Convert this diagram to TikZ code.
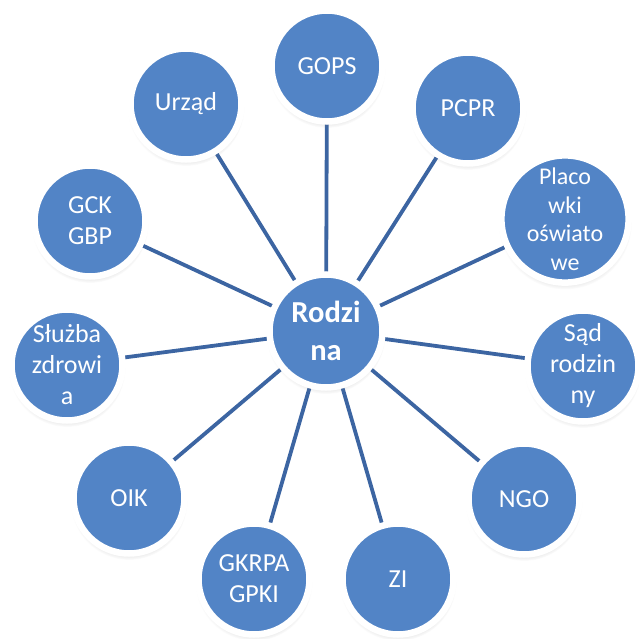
\documentclass[tikz,border=0pt]{standalone}
\usepackage{fontspec}
\setmainfont{Carlito}
\usetikzlibrary{shadows,backgrounds}
\definecolor{circblue}{RGB}{82,132,198}
\definecolor{linkblue}{RGB}{60,101,162}
\tikzset{
  outer/.style={circle, fill=circblue, draw=white, line width=6.5pt, minimum size=111pt, inner sep=0pt,
    align=center, text=white, font=\fontsize{26}{31}\selectfont,
    circular drop shadow={shadow xshift=0pt, shadow yshift=-3.5pt, shadow scale=1.05, opacity=0.3}},
  hub/.style={outer, minimum size=113pt, font=\bfseries\fontsize{30.5}{38}\selectfont},
  link/.style={draw=linkblue, line width=3.8pt}
}
\begin{document}
\begin{tikzpicture}[x=1pt, y=-1pt]
\useasboundingbox (0,0) rectangle (638,639);
\node[hub] (c) at (326,331) {Rodzi\\na};
\node[outer] (gops) at (327,66) {GOPS};
\node[outer] (pcpr) at (468,108) {PCPR};
\node[outer, font=\fontsize{24}{28.5}\selectfont] (plac) at (565,219) {Placo\\wki\\oświato\\we};
\node[outer] (sad) at (583,366) {Sąd\\rodzin\\ny};
\node[outer] (ngo) at (524,499) {NGO};
\node[outer] (zi) at (398,579) {ZI};
\node[outer] (gkrpa) at (254,579) {GKRPA\\GPKI};
\node[outer] (oik) at (129,498) {OIK};
\node[outer] (sluzba) at (67,365) {Służba\\zdrowi\\a};
\node[outer] (gck) at (90,221) {GCK\\GBP};
\node[outer] (urzad) at (186,104) {Urząd};
\begin{scope}[on background layer]
\foreach \n in {gops,pcpr,plac,sad,ngo,zi,gkrpa,oik,sluzba,gck,urzad}
  \draw[link] (c.center) -- (\n.center);
\end{scope}
\end{tikzpicture}
\end{document}
